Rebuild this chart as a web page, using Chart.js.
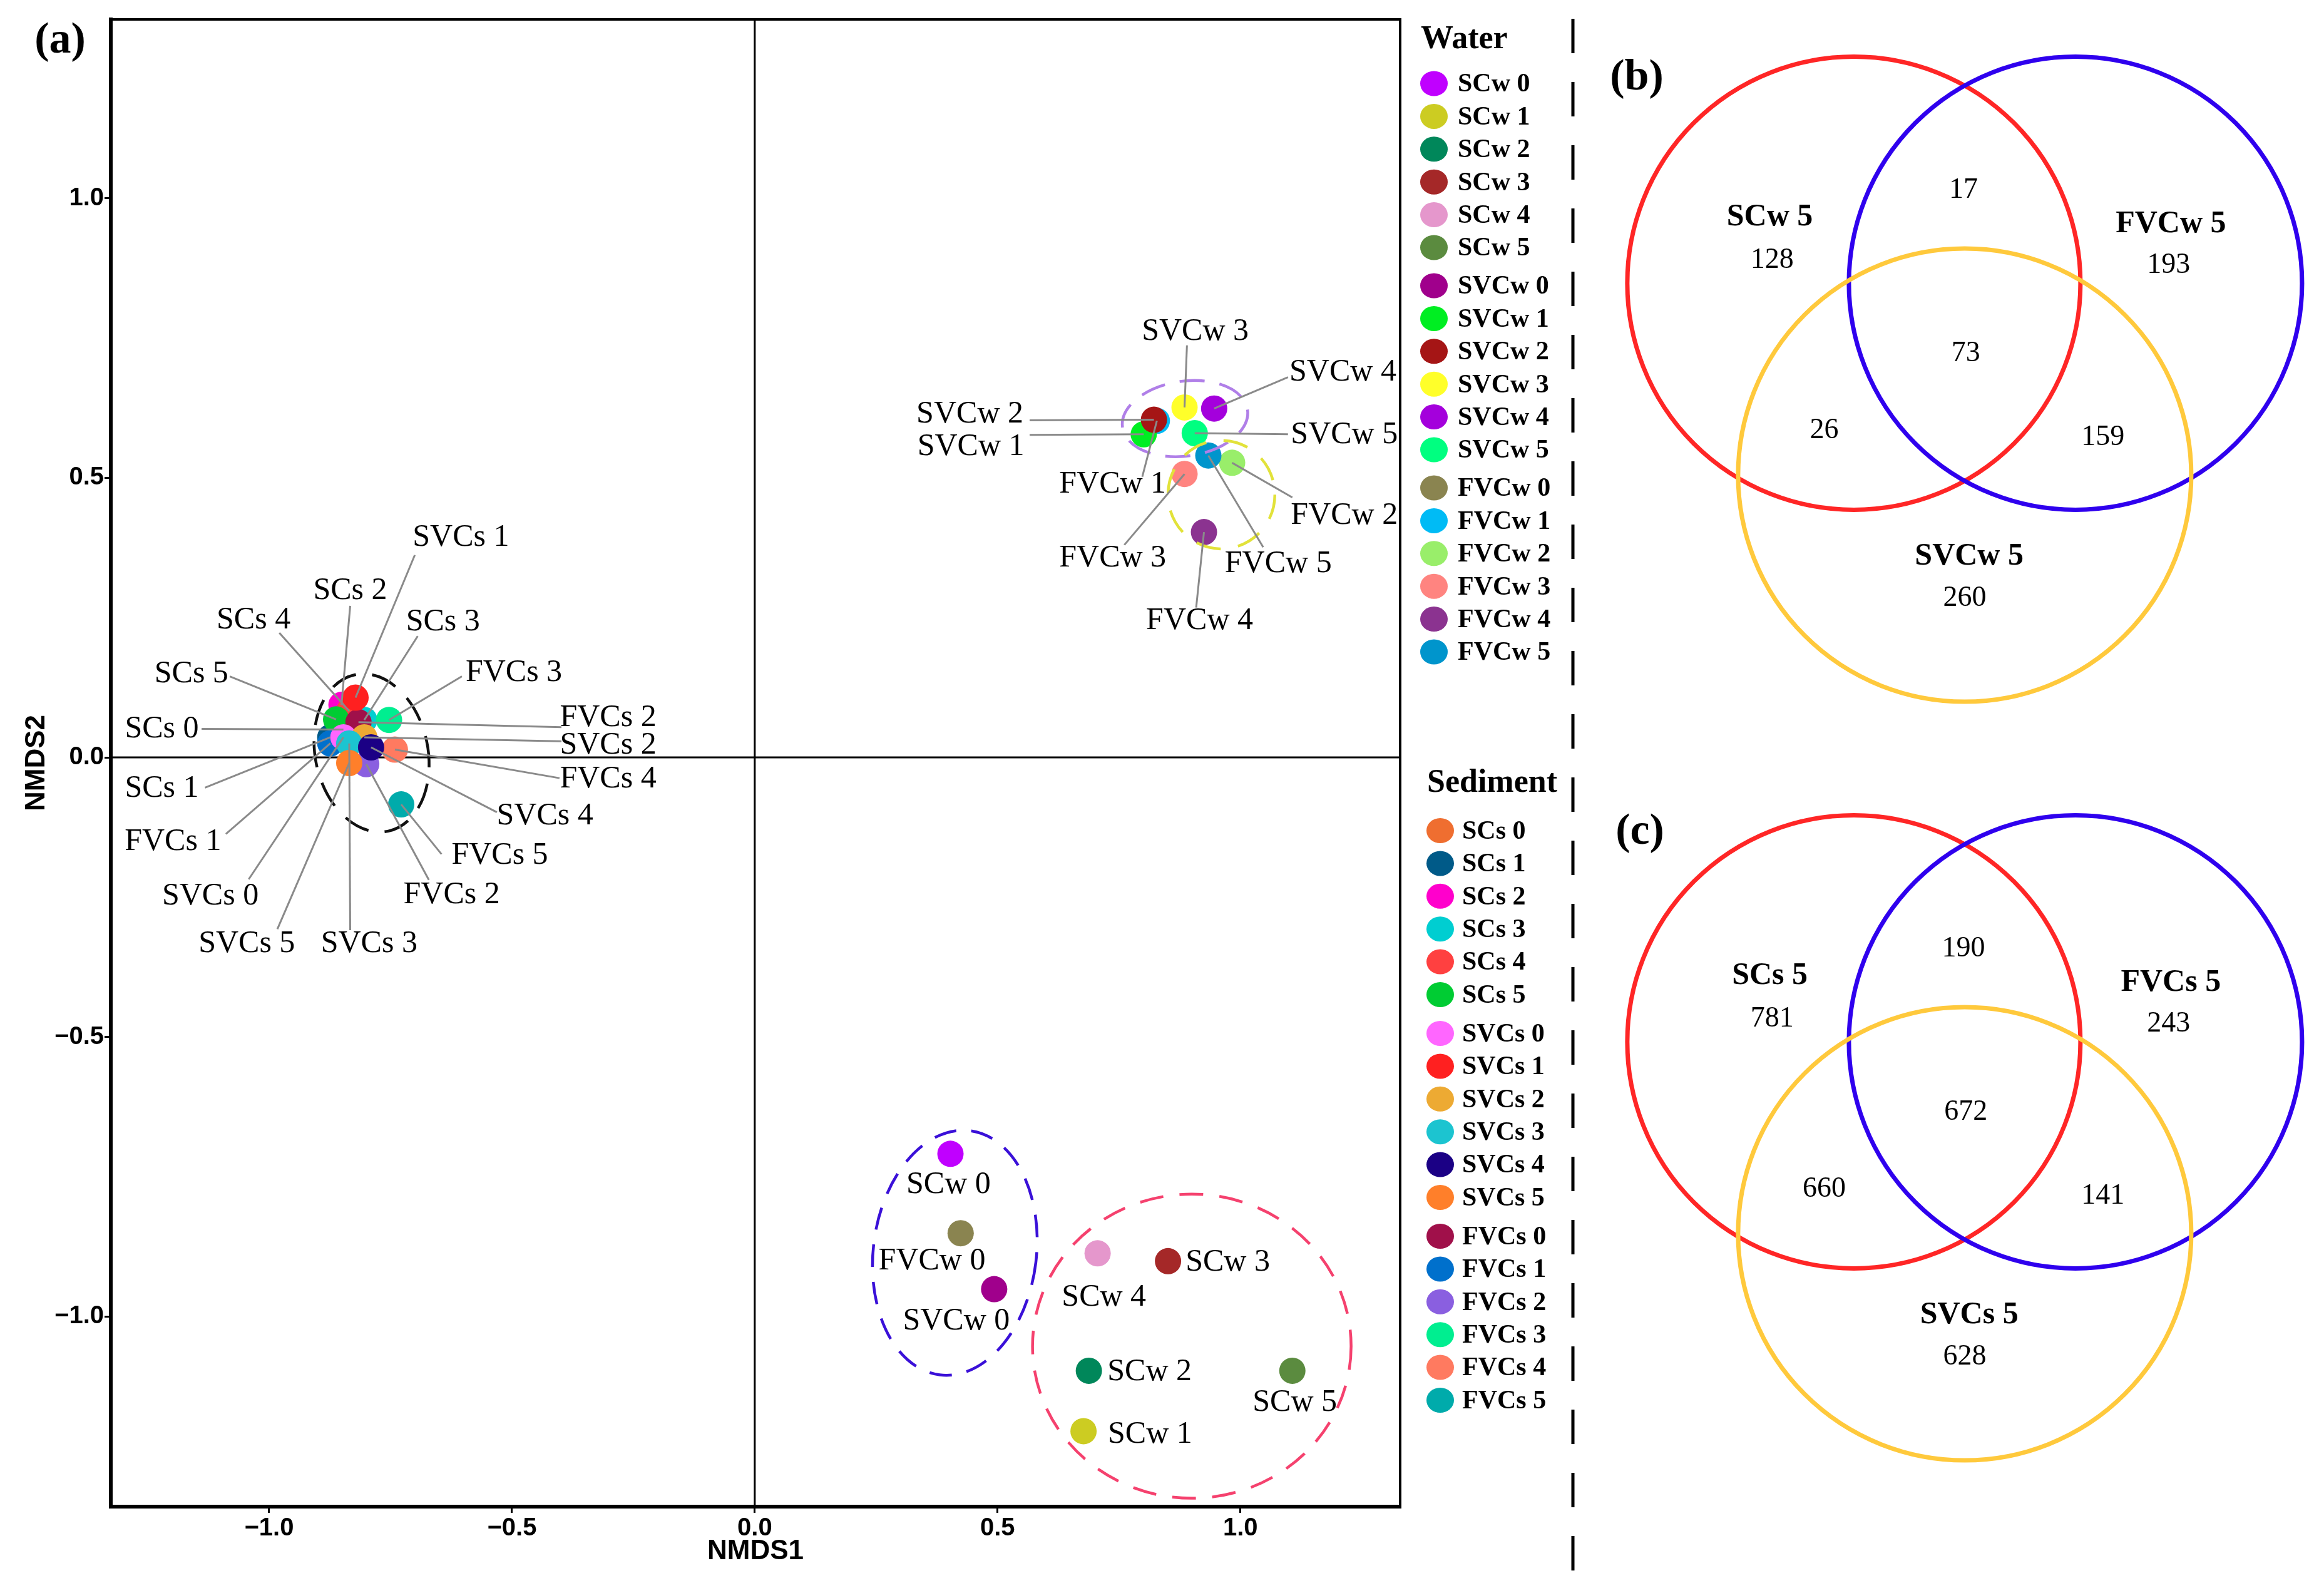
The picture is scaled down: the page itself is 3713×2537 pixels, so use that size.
<!DOCTYPE html>
<html>
<head>
<meta charset="utf-8">
<script src="https://cdn.jsdelivr.net/npm/chart.js@4.4.1/dist/chart.umd.min.js"></script>
<style>
  html, body { margin: 0; padding: 0; background: #fff; }
  body { width: 3713px; height: 2537px; position: relative; overflow: hidden; }
  canvas { position: absolute; }
</style>
</head>
<body>
<canvas id="nmdsChart" width="3713" height="2537" style="left:0;top:0;width:3713px;height:2537px"></canvas>
<canvas id="vennWater" width="1173" height="1180" style="left:2540px;top:0;width:1173px;height:1180px"></canvas>
<canvas id="vennSediment" width="1173" height="1180" style="left:2540px;top:1212px;width:1173px;height:1180px"></canvas>
<script>
// NMDS scores, water samples
const waterNames = ['SCw 0', 'SCw 1', 'SCw 2', 'SCw 3', 'SCw 4', 'SCw 5',
  'SVCw 0', 'SVCw 1', 'SVCw 2', 'SVCw 3', 'SVCw 4', 'SVCw 5',
  'FVCw 0', 'FVCw 1', 'FVCw 2', 'FVCw 3', 'FVCw 4', 'FVCw 5'];
const waterX = [0.403, 0.677, 0.688, 0.851, 0.706, 1.107,
  0.493, 0.801, 0.822, 0.885, 0.946, 0.906,
  0.424, 0.828, 0.983, 0.885, 0.925, 0.934];
const waterY = [-0.709, -1.205, -1.097, -0.901, -0.887, -1.097,
  -0.951, 0.578, 0.604, 0.626, 0.624, 0.580,
  -0.851, 0.602, 0.527, 0.507, 0.403, 0.540];

// NMDS scores, sediment samples
const sedimentNames = ['SCs 0', 'SCs 1', 'SCs 2', 'SCs 3', 'SCs 4', 'SCs 5',
  'SVCs 0', 'SVCs 1', 'SVCs 2', 'SVCs 3', 'SVCs 4', 'SVCs 5',
  'FVCs 0', 'FVCs 1', 'FVCs 2', 'FVCs 3', 'FVCs 4', 'FVCs 5'];
const sedimentX = [-0.847, -0.874, -0.851, -0.804, -0.835, -0.862,
  -0.847, -0.822, -0.804, -0.835, -0.790, -0.835,
  -0.816, -0.874, -0.800, -0.753, -0.741, -0.728];
const sedimentY = [0.050, 0.036, 0.094, 0.067, 0.083, 0.068,
  0.036, 0.107, 0.036, 0.025, 0.018, -0.010,
  0.063, 0.025, -0.012, 0.067, 0.014, -0.084];

const tickValues = [-1, -0.5, 0, 0.5, 1];
const xTickLabels = ['\u22121.0', '\u22120.5', '0.0', '0.5', '1.0'];
const yTickLabels = ['\u22121.0', '\u22120.5', '0.0', '0.5', '1.0'];

// shared OTUs: only A, only B, only C, A&B, A&C, B&C, A&B&C
const vennWaterSets = ['SCw 5', 'FVCw 5', 'SVCw 5'];
const vennWaterCounts = [128, 193, 260, 17, 26, 159, 73];
const vennSedimentSets = ['SCs 5', 'FVCs 5', 'SVCs 5'];
const vennSedimentCounts = [781, 243, 628, 190, 660, 141, 672];

const waterColors = ['#C000FF', '#CCCC22', '#00875A', '#A52828', '#E597CC', '#5B8B3F',
  '#A0008C', '#00EE22', '#A51515', '#FFFF2A', '#A400DC', '#00FF80',
  '#8A8450', '#00BBF5', '#99EE6A', '#FF8480', '#8B3390', '#0095CC'];
const sedimentColors = ['#EF6E30', '#005A88', '#FF00CC', '#00CED1', '#FF4040', '#00CC33',
  '#FF66FF', '#FF2020', '#EDAA33', '#1CC4D0', '#1B0085', '#FF7F2A',
  '#A0104A', '#0070CC', '#8A5FE0', '#00EE90', '#FF7A60', '#00ABAB'];

// label text position, leader start (data units) and the sample it points at
const pointLabels = [
  ['SVCs 1', -0.605, 0.393, -0.700, 0.362, 'SVCs 1'],
  ['SCs 2', -0.833, 0.298, -0.833, 0.271, 'SCs 2'],
  ['SCs 4', -1.032, 0.245, -0.979, 0.223, 'SCs 4'],
  ['SCs 3', -0.642, 0.242, -0.694, 0.217, 'SCs 3'],
  ['SCs 5', -1.160, 0.149, -1.081, 0.145, 'SCs 5'],
  ['FVCs 3', -0.496, 0.151, -0.603, 0.145, 'FVCs 3'],
  ['SCs 0', -1.221, 0.051, -1.139, 0.051, 'SCs 0'],
  ['FVCs 2', -0.302, 0.071, -0.398, 0.054, 'FVCs 0'],
  ['SVCs 2', -0.302, 0.022, -0.398, 0.029, 'SVCs 2'],
  ['FVCs 4', -0.302, -0.039, -0.402, -0.037, 'FVCs 4'],
  ['SVCs 4', -0.432, -0.105, -0.531, -0.098, 'SVCs 4'],
  ['FVCs 5', -0.525, -0.175, -0.645, -0.173, 'FVCs 5'],
  ['FVCs 2', -0.624, -0.246, -0.671, -0.219, 'FVCs 2'],
  ['SVCs 3', -0.794, -0.333, -0.833, -0.309, 'SVCs 3'],
  ['SVCs 5', -1.046, -0.333, -0.983, -0.307, 'SVCs 5'],
  ['SVCs 0', -1.121, -0.248, -1.042, -0.218, 'SVCs 0'],
  ['FVCs 1', -1.198, -0.151, -1.089, -0.137, 'FVCs 1'],
  ['SCs 1', -1.221, -0.056, -1.132, -0.054, 'SCs 1'],
  ['SVCw 3', 0.907, 0.761, 0.890, 0.737, 'SVCw 3'],
  ['SVCw 4', 1.211, 0.689, 1.098, 0.680, 'SVCw 4'],
  ['SVCw 2', 0.443, 0.614, 0.566, 0.603, 'SVCw 2'],
  ['SVCw 1', 0.445, 0.556, 0.566, 0.577, 'SVCw 1'],
  ['SVCw 5', 1.214, 0.577, 1.098, 0.578, 'SVCw 5'],
  ['FVCw 1', 0.737, 0.488, 0.798, 0.502, 'FVCw 1'],
  ['FVCw 2', 1.214, 0.432, 1.107, 0.465, 'FVCw 2'],
  ['FVCw 3', 0.737, 0.356, 0.761, 0.380, 'FVCw 3'],
  ['FVCw 5', 1.078, 0.346, 1.047, 0.376, 'FVCw 5'],
  ['FVCw 4', 0.916, 0.244, 0.909, 0.268, 'FVCw 4'],
  ['SCw 0', 0.399, -0.764],
  ['FVCw 0', 0.365, -0.901],
  ['SVCw 0', 0.415, -1.009],
  ['SCw 4', 0.719, -0.966],
  ['SCw 3', 0.974, -0.903],
  ['SCw 2', 0.813, -1.099],
  ['SCw 5', 1.112, -1.154],
  ['SCw 1', 0.814, -1.211],
];

// dashed group outlines: center, radii (data units), rotation (deg), colour
const groupEllipses = [
  [-0.789, 0.008, 0.116, 0.143, -12, '#111111', [42, 26]],
  [0.886, 0.606, 0.130, 0.067, -8, '#B07FE8', [40, 24]],
  [0.961, 0.470, 0.110, 0.097, 0, '#E2E23A', [40, 28]],
  [0.412, -0.886, 0.168, 0.220, 7, '#3A10D8', [36, 24]],
  [0.900, -1.053, 0.328, 0.272, 0, '#F5416E', [38, 26]],
];

function findSample(name) {
  let i = waterNames.indexOf(name);
  if (i >= 0) return { x: waterX[i], y: waterY[i] };
  i = sedimentNames.indexOf(name);
  return { x: sedimentX[i], y: sedimentY[i] };
}

function groupDataset(names, xs, ys, colors, from, order) {
  const idx = [0, 1, 2, 3, 4, 5].map((i) => i + from);
  return {
    label: names[from],
    data: idx.map((i) => ({ x: xs[i], y: ys[i] })),
    backgroundColor: idx.map((i) => colors[i]),
    pointBackgroundColor: idx.map((i) => colors[i]),
    pointBorderWidth: 0,
    borderWidth: 0,
    pointRadius: 21,
    showLine: false,
    order: order,
  };
}

function drawLegend(ctx, title, names, colors, lay) {
  ctx.fillStyle = '#000';
  ctx.textAlign = 'left';
  ctx.textBaseline = 'middle';
  ctx.font = 'bold 52px "Liberation Serif"';
  ctx.fillText(title, lay.titleX, lay.titleY);
  ctx.font = 'bold 42px "Liberation Serif"';
  names.forEach((name, i) => {
    const yy = lay.firstY + i * lay.step + Math.floor(i / 6) * (lay.groupGap - lay.step);
    ctx.fillStyle = colors[i];
    ctx.beginPath();
    ctx.ellipse(lay.markerX, yy, 22, 20, 0, 0, Math.PI * 2);
    ctx.fill();
    ctx.fillStyle = '#000';
    ctx.fillText(name, lay.textX, yy + 2);
  });
}

const nmdsDecor = {
  id: 'nmdsDecor',
  beforeDatasetsDraw(chart) {
    const { ctx, chartArea: a, scales: { x, y } } = chart;
    ctx.save();
    ctx.strokeStyle = '#000';
    ctx.lineWidth = 3;
    ctx.beginPath();
    ctx.moveTo(x.getPixelForValue(0), a.top);
    ctx.lineTo(x.getPixelForValue(0), a.bottom);
    ctx.moveTo(a.left, y.getPixelForValue(0));
    ctx.lineTo(a.right, y.getPixelForValue(0));
    ctx.stroke();
    ctx.restore();
  },
  afterDatasetsDraw(chart) {
    const { ctx, scales: { x, y } } = chart;
    const ux = x.getPixelForValue(1) - x.getPixelForValue(0);
    const uy = y.getPixelForValue(0) - y.getPixelForValue(1);
    ctx.save();
    groupEllipses.forEach((e) => {
      ctx.strokeStyle = e[5];
      ctx.lineWidth = 4.5;
      ctx.setLineDash(e[6]);
      ctx.beginPath();
      ctx.ellipse(x.getPixelForValue(e[0]), y.getPixelForValue(e[1]), e[2] * ux, e[3] * uy, e[4] * Math.PI / 180, 0, Math.PI * 2);
      ctx.stroke();
    });
    ctx.setLineDash([]);
    ctx.strokeStyle = '#8a8a8a';
    ctx.lineWidth = 3;
    pointLabels.forEach((l) => {
      if (l.length < 6) return;
      const p = findSample(l[5]);
      ctx.beginPath();
      ctx.moveTo(x.getPixelForValue(l[3]), y.getPixelForValue(l[4]));
      ctx.lineTo(x.getPixelForValue(p.x), y.getPixelForValue(p.y));
      ctx.stroke();
    });
    ctx.fillStyle = '#000';
    ctx.font = '50px "Liberation Serif"';
    ctx.textAlign = 'center';
    ctx.textBaseline = 'middle';
    pointLabels.forEach((l) => {
      ctx.fillText(l[0], x.getPixelForValue(l[1]), y.getPixelForValue(l[2]));
    });
    ctx.restore();
  },
  afterDraw(chart) {
    const { ctx, chartArea: a } = chart;
    ctx.save();
    ctx.strokeStyle = '#000';
    ctx.lineWidth = 4;
    ctx.strokeRect(a.left, a.top, a.right - a.left, a.bottom - a.top);

    ctx.fillStyle = '#000';
    ctx.font = 'bold 70px "Liberation Serif"';
    ctx.textAlign = 'center';
    ctx.textBaseline = 'middle';
    ctx.fillText('(a)', 96, 66);

    drawLegend(ctx, 'Water', waterNames, waterColors,
      { titleX: 2270, titleY: 64, markerX: 2291, textX: 2329, firstY: 133.5, step: 52.4, groupGap: 61 });
    drawLegend(ctx, 'Sediment', sedimentNames, sedimentColors,
      { titleX: 2280, titleY: 1252, markerX: 2301, textX: 2336, firstY: 1327, step: 52.4, groupGap: 62 });

    // panel separator
    ctx.lineWidth = 5;
    ctx.setLineDash([55, 46]);
    ctx.beginPath();
    ctx.moveTo(2513, 30);
    ctx.lineTo(2513, 2530);
    ctx.stroke();
    ctx.restore();
  },
};

const tickFont = { family: 'Liberation Sans', size: 40, weight: 'bold' };
const titleFont = { family: 'Liberation Sans', size: 44, weight: 'bold' };

new Chart(document.getElementById('nmdsChart'), {
  type: 'scatter',
  data: {
    datasets: [
      groupDataset(waterNames, waterX, waterY, waterColors, 0, 5),
      groupDataset(waterNames, waterX, waterY, waterColors, 6, 3),
      groupDataset(waterNames, waterX, waterY, waterColors, 12, 4),
      groupDataset(sedimentNames, sedimentX, sedimentY, sedimentColors, 0, 2),
      groupDataset(sedimentNames, sedimentX, sedimentY, sedimentColors, 6, 0),
      groupDataset(sedimentNames, sedimentX, sedimentY, sedimentColors, 12, 1),
    ],
  },
  options: {
    responsive: false,
    animation: false,
    events: [],
    layout: { padding: { top: 31, right: 1476, left: 0, bottom: 0 } },
    plugins: { legend: { display: false }, tooltip: { enabled: false } },
    scales: {
      x: {
        type: 'linear',
        min: -1.326,
        max: 1.329,
        afterBuildTicks: (s) => { s.ticks = tickValues.map((v) => ({ value: v })); },
        afterFit: (s) => { s.height = 130; },
        grid: { drawOnChartArea: false, drawTicks: true, tickLength: 10, color: '#000', lineWidth: 3 },
        border: { display: true, color: '#000', width: 6 },
        ticks: {
          font: tickFont, color: '#000', padding: 1, maxRotation: 0, autoSkip: false,
          callback: (v) => xTickLabels[tickValues.indexOf(v)],
        },
        title: { display: true, text: 'NMDS1', font: titleFont, color: '#000', padding: { top: 0, bottom: 32 } },
      },
      y: {
        type: 'linear',
        min: -1.340,
        max: 1.320,
        afterBuildTicks: (s) => { s.ticks = tickValues.map((v) => ({ value: v })); },
        afterFit: (s) => { s.width = 177; },
        grid: { drawOnChartArea: false, drawTicks: true, tickLength: 10, color: '#000', lineWidth: 3 },
        border: { display: true, color: '#000', width: 6 },
        ticks: {
          font: tickFont, color: '#000', padding: 1, autoSkip: false,
          callback: (v) => yTickLabels[tickValues.indexOf(v)],
        },
        title: { display: true, text: 'NMDS2', font: titleFont, color: '#000', padding: { top: 32, bottom: 0 } },
      },
    },
  },
  plugins: [nmdsDecor],
});

// venn layout in circle-radius units
const vennRadius = 1.0;
const vennCenters = [[-0.489, 0], [0.489, 0], [0, -0.847]];
const vennColors = ['#FF2626', '#2F00EE', '#FFC93C'];
const vennTitlePos = [[-0.86, 0.29], [0.91, 0.26], [0.02, -1.205]];
const vennCountPos = [[-0.85, 0.10], [0.90, 0.08], [0.0, -1.39], [-0.005, 0.41], [-0.62, -0.65], [0.61, -0.68], [0.005, -0.31]];

function createVenn(canvasId, letter, letterPos, setNames, counts) {
  const textPlugin = {
    id: 'vennText',
    afterDatasetsDraw(chart) {
      const { ctx, scales: { x, y } } = chart;
      ctx.save();
      ctx.fillStyle = '#000';
      ctx.textAlign = 'center';
      ctx.textBaseline = 'middle';
      ctx.font = 'bold 50px "Liberation Serif"';
      setNames.forEach((n, i) => {
        ctx.fillText(n, x.getPixelForValue(vennTitlePos[i][0]), y.getPixelForValue(vennTitlePos[i][1]));
      });
      ctx.font = '46px "Liberation Serif"';
      counts.forEach((c, i) => {
        ctx.fillText(String(c), x.getPixelForValue(vennCountPos[i][0]), y.getPixelForValue(vennCountPos[i][1]));
      });
      ctx.font = 'bold 70px "Liberation Serif"';
      ctx.fillText(letter, letterPos[0], letterPos[1]);
      ctx.restore();
    },
  };
  new Chart(document.getElementById(canvasId), {
    type: 'scatter',
    data: {
      datasets: [{
        data: vennCenters.map((c) => ({ x: c[0], y: c[1] })),
        pointRadius: (ctx) => {
          const s = ctx.chart.scales.x;
          return (s.getPixelForValue(1) - s.getPixelForValue(0)) * vennRadius;
        },
        pointBackgroundColor: 'rgba(0,0,0,0)',
        pointBorderColor: vennColors,
        pointBorderWidth: 7,
        showLine: false,
        clip: false,
      }],
    },
    options: {
      responsive: false,
      animation: false,
      events: [],
      layout: { padding: 0 },
      plugins: { legend: { display: false }, tooltip: { enabled: false } },
      scales: {
        x: { type: 'linear', display: false, min: -1.6544, max: 1.5859 },
        y: { type: 'linear', display: false, min: -2.0097, max: 1.25 },
      },
    },
    plugins: [textPlugin],
  });
}

createVenn('vennWater', '(b)', [75, 125], vennWaterSets, vennWaterCounts);
createVenn('vennSediment', '(c)', [80, 118], vennSedimentSets, vennSedimentCounts);
</script>
</body>
</html>
